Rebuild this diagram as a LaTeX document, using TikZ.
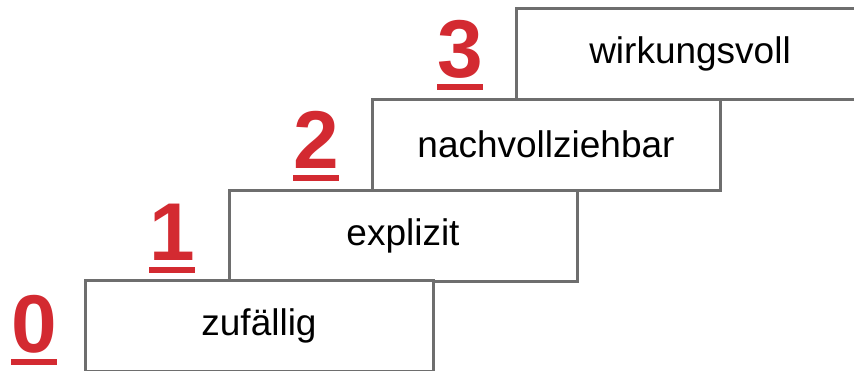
\documentclass[tikz,border=0pt]{standalone}
\usepackage{fontspec}
\setmainfont{Liberation Sans}
\definecolor{stepred}{HTML}{D32A31}
\definecolor{stepgray}{HTML}{6E6E6E}
\begin{document}
\begin{tikzpicture}[x=1pt,y=-1pt,
  stepbox/.style={draw=stepgray,line width=3pt,fill=white,minimum width=348pt,minimum height=91pt,inner sep=0pt,
    font=\fontsize{37}{44}\selectfont,text=black},
  stepnum/.style={inner sep=0pt,anchor=base west,text=stepred,font=\fontsize{82}{90}\selectfont\bfseries}]
\useasboundingbox (0,0) rectangle (854,370);
\begin{scope}
\clip (0,0) rectangle (854,370);
\node[stepbox] (b3) at (690,53.5) {wirkungsvoll};
\node[stepbox] (b2) at (546,144.5) {nachvollziehbar};
\node[stepbox] (b1) at (403,235.5) {explizit};
\node[stepbox] (b0) at (259,326) {zuf\"allig};
\end{scope}
\node[stepnum] (n0) at (11,352) {0};
\node[stepnum] (n1) at (149,260) {1};
\node[stepnum] (n2) at (293,168) {2};
\node[stepnum] (n3) at (437,77) {3};
\foreach \n in {n0,n1,n2,n3}{
  \fill[stepred] ([yshift=-7pt]\n.base west) rectangle ([yshift=-13pt]\n.base east);
}
\end{tikzpicture}
\end{document}
